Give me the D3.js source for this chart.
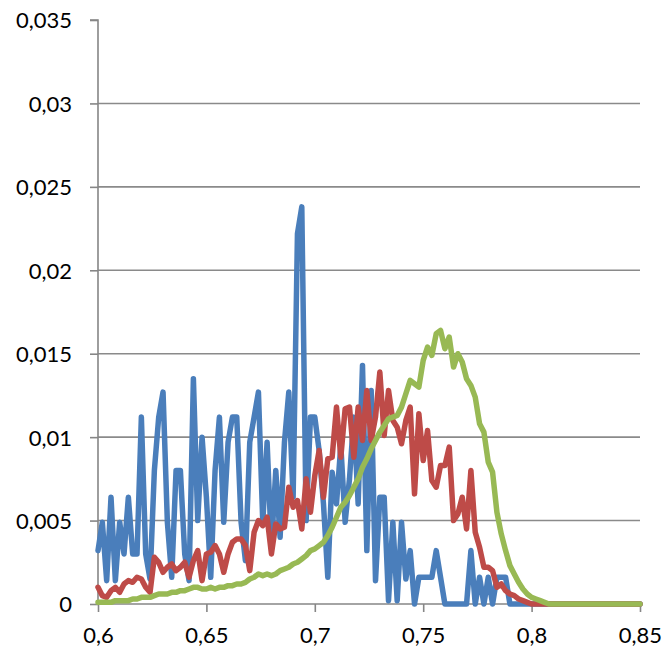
<!DOCTYPE html>
<html>
<head>
<meta charset="utf-8">
<script src="https://cdn.jsdelivr.net/npm/d3@7"></script>
<style>
  html, body { margin: 0; padding: 0; background: #fff; }
  svg text { font-family: Lato, "Open Sans", sans-serif; fill: #000; }
</style>
</head>
<body>
<div id="chart"></div>
<script>
// x categories: 0.6 .. 0.85 every 0.002
var xStart = 0.6, xStep = 0.002;

var blueValues = [
  0.0032, 0.0049, 0.0014, 0.0064, 0.0014, 0.0049, 0.0030, 0.0064, 0.0030, 0.0030,
  0.0112, 0.0030, 0.0015, 0.0080, 0.0112, 0.0127, 0.0049, 0.0016, 0.0080, 0.0080,
  0.0030, 0.0014, 0.0135, 0.0050, 0.0100, 0.0064, 0.0016, 0.0080, 0.0112, 0.0049,
  0.0097, 0.0112, 0.0112, 0.0049, 0.0026, 0.0097, 0.0112, 0.0127, 0.0049, 0.0097,
  0.0034, 0.0080, 0.0040, 0.0097, 0.0127, 0.0064, 0.0222, 0.0238, 0.0050, 0.0112,
  0.0112, 0.0092, 0.0060, 0.0016, 0.0079, 0.0060, 0.0095, 0.0049, 0.0075, 0.0112,
  0.0060, 0.0143, 0.0032, 0.0128, 0.0014, 0.0064, 0.0064, 0.0002, 0.0049, 0.0002,
  0.0049, 0.0015, 0.0032, 0.0000, 0.0016, 0.0016, 0.0016, 0.0016, 0.0032, 0.0016,
  0.0000, 0.0000, 0.0000, 0.0000, 0.0000, 0.0000, 0.0032, 0.0000, 0.0016, 0.0000,
  0.0016, 0.0000, 0.0016, 0.0016, 0.0016, 0.0000, 0.0000, 0.0000, 0.0000, 0.0000,
  0.0000, 0.0000, 0.0000, 0.0000, 0.0000, 0.0000, 0.0000, 0.0000, 0.0000, 0.0000,
  0.0000, 0.0000, 0.0000, 0.0000, 0.0000, 0.0000, 0.0000, 0.0000, 0.0000, 0.0000,
  0.0000, 0.0000, 0.0000, 0.0000, 0.0000, 0.0000
];

var redValues = [
  0.0010, 0.0005, 0.0004, 0.0008, 0.0010, 0.0007, 0.0012, 0.0014, 0.0013, 0.0016,
  0.0015, 0.0010, 0.0007, 0.0028, 0.0025, 0.0019, 0.0022, 0.0024, 0.0020, 0.0022,
  0.0025, 0.0016, 0.0026, 0.0032, 0.0014, 0.0030, 0.0031, 0.0035, 0.0030, 0.0019,
  0.0030, 0.0037, 0.0039, 0.0039, 0.0035, 0.0020, 0.0043, 0.0050, 0.0047, 0.0052,
  0.0030, 0.0048, 0.0045, 0.0046, 0.0070, 0.0058, 0.0062, 0.0045, 0.0075, 0.0055,
  0.0077, 0.0092, 0.0064, 0.0087, 0.0088, 0.0118, 0.0088, 0.0117, 0.0118, 0.0088,
  0.0118, 0.0098, 0.0128, 0.0098, 0.0112, 0.0139, 0.0101, 0.0128, 0.0110, 0.0106,
  0.0096, 0.0110, 0.0118, 0.0066, 0.0114, 0.0086, 0.0104, 0.0074, 0.0070, 0.0083,
  0.0083, 0.0094, 0.0050, 0.0054, 0.0064, 0.0045, 0.0080, 0.0043, 0.0034, 0.0022,
  0.0022, 0.0020, 0.0010, 0.0012, 0.0008, 0.0006, 0.0005, 0.0003, 0.0002, 0.0001,
  0.0000, 0.0000, 0.0000, 0.0000, 0.0000, 0.0000, 0.0000, 0.0000, 0.0000, 0.0000,
  0.0000, 0.0000, 0.0000, 0.0000, 0.0000, 0.0000, 0.0000, 0.0000, 0.0000, 0.0000,
  0.0000, 0.0000, 0.0000, 0.0000, 0.0000, 0.0000
];

var greenValues = [
  0.0001, 0.0001, 0.0001, 0.0001, 0.0002, 0.0002, 0.0002, 0.0002, 0.0003, 0.0003,
  0.0004, 0.0004, 0.0004, 0.0005, 0.0006, 0.0006, 0.0006, 0.0007, 0.0007, 0.0008,
  0.0008, 0.0009, 0.0010, 0.0010, 0.0009, 0.0009, 0.0010, 0.0009, 0.0010, 0.0010,
  0.0011, 0.0011, 0.0012, 0.0012, 0.0013, 0.0015, 0.0016, 0.0018, 0.0017, 0.0018,
  0.0017, 0.0018, 0.0020, 0.0021, 0.0022, 0.0024, 0.0025, 0.0027, 0.0029, 0.0032,
  0.0033, 0.0035, 0.0037, 0.0041, 0.0046, 0.0052, 0.0058, 0.0061, 0.0065, 0.0070,
  0.0075, 0.0082, 0.0087, 0.0093, 0.0098, 0.0103, 0.0107, 0.0111, 0.0112, 0.0113,
  0.0118, 0.0126, 0.0134, 0.0132, 0.0130, 0.0146, 0.0154, 0.0149, 0.0162, 0.0164,
  0.0153, 0.0160, 0.0142, 0.0150, 0.0145, 0.0135, 0.0131, 0.0124, 0.0108, 0.0103,
  0.0085, 0.0079, 0.0055, 0.0042, 0.0032, 0.0023, 0.0018, 0.0013, 0.0009, 0.0006,
  0.0004, 0.0003, 0.0002, 0.0001, 0.0000, 0.0000, 0.0000, 0.0000, 0.0000, 0.0000,
  0.0000, 0.0000, 0.0000, 0.0000, 0.0000, 0.0000, 0.0000, 0.0000, 0.0000, 0.0000,
  0.0000, 0.0000, 0.0000, 0.0000, 0.0000, 0.0000
];

var xTicks = [0.6, 0.65, 0.7, 0.75, 0.8, 0.85];
var yTicks = [0, 0.005, 0.01, 0.015, 0.02, 0.025, 0.03, 0.035];

var series = [
  { name: 'blue', color: '#4a7ebb', values: blueValues },
  { name: 'red', color: '#be4b48', values: redValues },
  { name: 'green', color: '#98b954', values: greenValues }
];

var width = 665, height = 651;
var margin = { top: 20, right: 25, bottom: 47, left: 98 };

var svg = d3.select('#chart').append('svg')
    .attr('width', width)
    .attr('height', height);

var x = d3.scaleLinear().domain([0.6, 0.85]).range([margin.left, width - margin.right]);
var y = d3.scaleLinear().domain([0, 0.035]).range([height - margin.bottom, margin.top]);

var fmt = function(d) { return d3.format('')(+d.toFixed(3)).replace('.', ','); };

// horizontal gridlines (none on top)
svg.append('g')
  .selectAll('line')
  .data(yTicks.filter(function(d) { return d > 0 && d < 0.035; }))
  .enter().append('line')
    .attr('x1', x(0.6)).attr('x2', x(0.85))
    .attr('y1', function(d) { return y(d); })
    .attr('y2', function(d) { return y(d); })
    .attr('stroke', '#8a8a8a')
    .attr('stroke-width', 1.6);

// y axis
var yAxis = d3.axisLeft(y).tickValues(yTicks).tickSize(8).tickPadding(18).tickFormat(fmt);
svg.append('g')
    .attr('transform', 'translate(' + x(0.6) + ',0)')
    .call(yAxis)
    .call(function(g) {
      g.selectAll('line, path').attr('stroke', '#868686').attr('stroke-width', 1.6);
      g.select('.domain').attr('d', 'M-8,' + y(0.035) + 'H0V' + y(0));
      g.selectAll('text').style('font-size', '22px').attr('dy', '0.36em');
    });

// x axis
var xAxis = d3.axisBottom(x).tickValues(xTicks).tickSize(8).tickPadding(15).tickFormat(fmt);
svg.append('g')
    .attr('transform', 'translate(0,' + y(0) + ')')
    .call(xAxis)
    .call(function(g) {
      g.selectAll('line, path').attr('stroke', '#868686').attr('stroke-width', 1.6);
      g.select('.domain').attr('d', 'M' + x(0.6) + ',0H' + x(0.85));
      g.selectAll('text').style('font-size', '22px');
    });

var line = d3.line()
    .x(function(d, i) { return x(xStart + i * xStep); })
    .y(function(d) { return y(d); });

svg.append('g')
  .selectAll('path')
  .data(series)
  .enter().append('path')
    .attr('fill', 'none')
    .attr('stroke', function(d) { return d.color; })
    .attr('stroke-width', 5.5)
    .attr('stroke-linejoin', 'round')
    .attr('stroke-linecap', 'round')
    .attr('d', function(d) { return line(d.values); });
</script>
</body>
</html>
